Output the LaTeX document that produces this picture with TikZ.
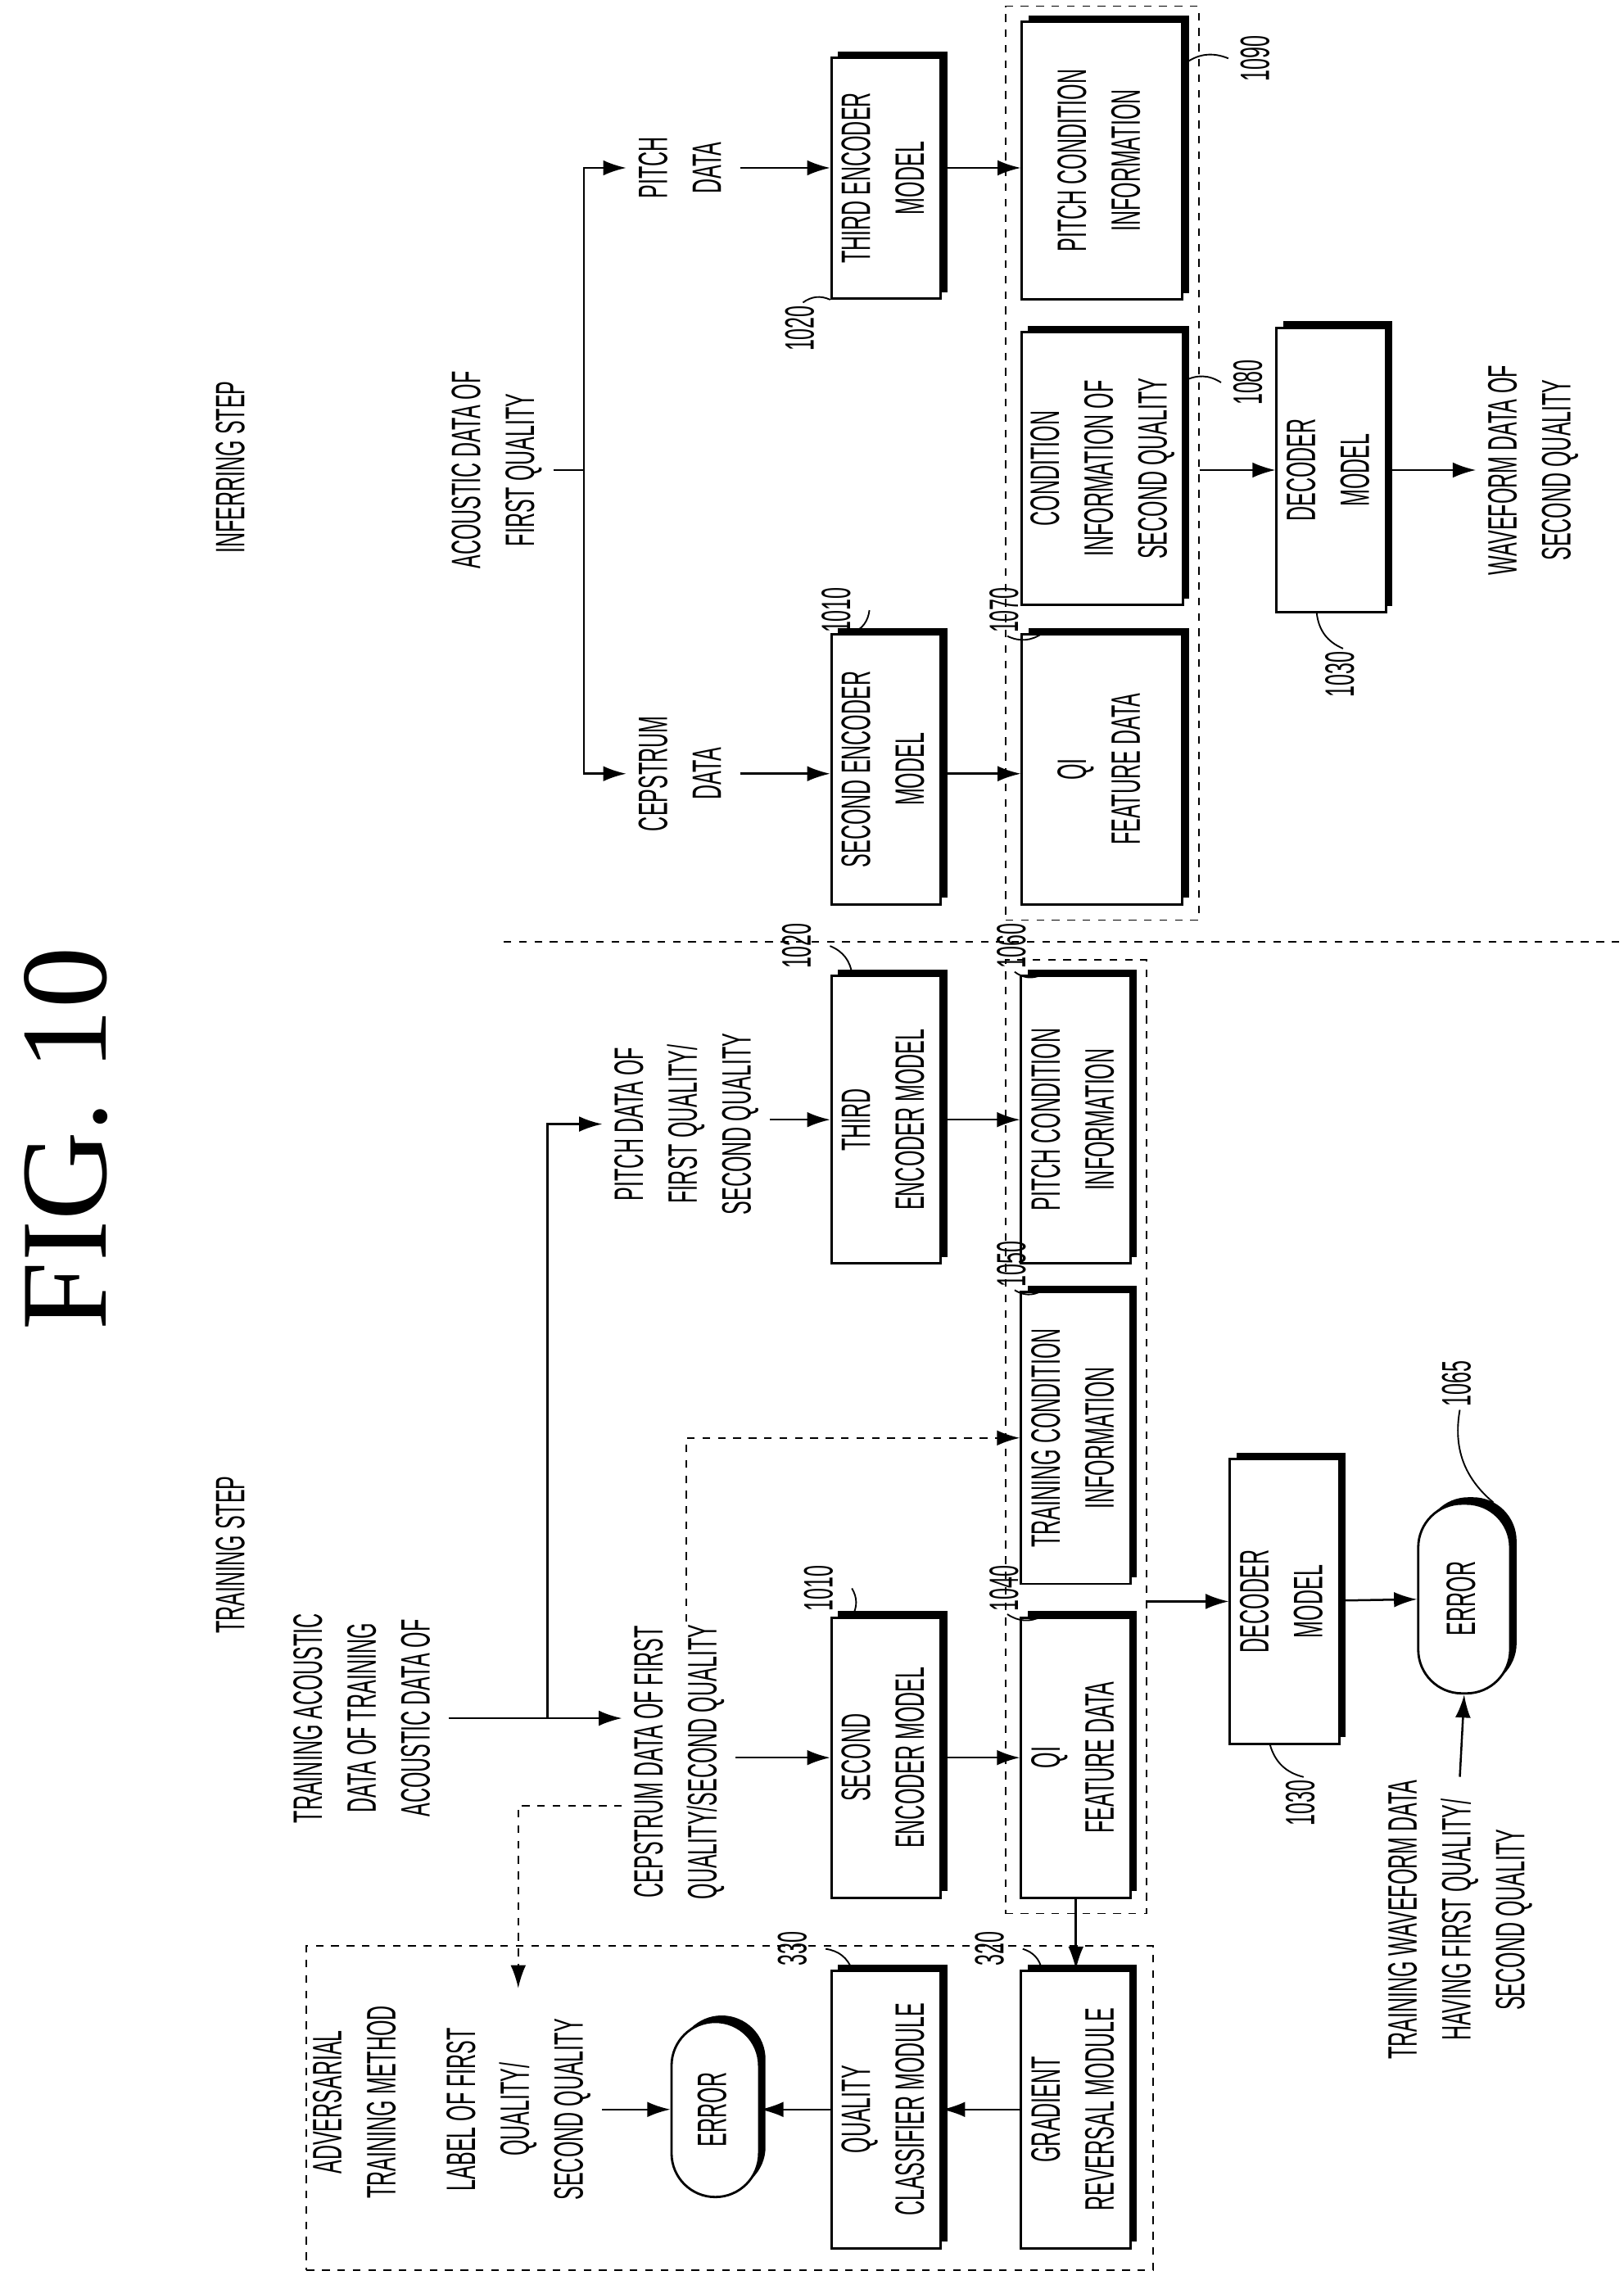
\documentclass[tikz,border=0pt]{standalone}
\usepackage{fontspec}
\setmainfont{Liberation Sans}
\newfontfamily\figfont{Liberation Serif}
\usetikzlibrary{arrows.meta,shadows,fit,positioning}
\newcommand{\rt}[1]{\rotatebox{90}{\scalebox{0.5}[1]{\begin{tabular}{@{}c@{}}#1\end{tabular}}}}
\tikzset{
  blk/.style 2 args={draw, line width=0.9pt, fill=white,
    drop shadow={shadow xshift=2.5pt, shadow yshift=2.5pt, fill=black, opacity=1},
    minimum width=#1, minimum height=#2, inner sep=0pt},
  err/.style 2 args={blk={#1}{#2}, rounded corners=0.6cm},
  txt/.style={inner sep=1pt},
  grp/.style={draw, dashed, line width=0.6pt, inner sep=0.2cm},
  ref/.style={inner sep=1pt},
  arr/.style={-{Latex[length=9pt,width=6pt]}, line width=0.8pt},
  lead/.style={line width=0.6pt},
}
\begin{document}
\begin{tikzpicture}[x=0.02cm, y=-0.02cm, font=\fontsize{16}{21}\selectfont]
\useasboundingbox (0,0) rectangle (1112,1568);
\node (fig) at (45,780) {\rotatebox{90}{\figfont\fontsize{48}{50}\selectfont FIG. 10}};
\draw[dashed, line width=0.6pt] (345,645) -- (1110,645);

% inferring step
\node[txt] (inf) at (160,320) {\rt{INFERRING STEP}};
\node[txt] (ac1) at (340,322) {\rt{ACOUSTIC DATA OF\\FIRST QUALITY}};
\coordinate (sp1) at (400,322);
\node[txt] (pd1) at (468,115) {\rt{PITCH\\DATA}};
\node[txt] (cd1) at (468,530) {\rt{CEPSTRUM\\DATA}};
\node[blk={1.5cm}{3.3cm}] (te1) at (607,122) {\rt{THIRD ENCODER\\MODEL}};
\node[blk={1.5cm}{3.7cm}] (se1) at (607,527) {\rt{SECOND ENCODER\\MODEL}};
\node[blk={2.2cm}{3.8cm}] (pc1) at (755,110) {\rt{PITCH CONDITION\\INFORMATION}};
\node[blk={2.2cm}{3.74cm}] (cq1) at (755,321) {\rt{CONDITION\\INFORMATION OF\\SECOND QUALITY}};
\node[blk={2.2cm}{3.7cm}] (qi1) at (755,527) {\rt{QI\\FEATURE DATA}};
\node[grp, fit=(pc1)(cq1)(qi1)] (grp1) {};
\node[blk={1.5cm}{3.9cm}] (dec1) at (912,322) {\rt{DECODER\\MODEL}};
\node[txt] (wf1) at (1050,322) {\rt{WAVEFORM DATA OF\\SECOND QUALITY}};

\draw[line width=0.8pt] (ac1.east) -- (sp1);
\draw[arr] (sp1) |- (pd1.west);
\draw[arr] (sp1) |- (cd1.west);
\draw[arr] (pd1.east) -- (pd1.east -| te1.west);
\draw[arr] (cd1.east) -- (cd1.east -| se1.west);
\draw[arr] (te1.east |- pd1) -- (pc1.west |- pd1);
\draw[arr] (se1.east |- cd1) -- (qi1.west |- cd1);
\draw[arr] (grp1.east |- dec1) -- (dec1.west);
\draw[arr] (dec1.east) -- (wf1.west);

\node[ref] (r1020a) at (550,225) {\rt{1020}};
\node[ref] (r1010a) at (575,418) {\rt{1010}};
\node[ref] (r1070a) at (690,418) {\rt{1070}};
\node[ref] (r1080a) at (857,262) {\rt{1080}};
\node[ref] (r1090a) at (862,40) {\rt{1090}};
\node[ref] (r1030a) at (920,462) {\rt{1030}};
\draw[lead] (r1020a.north) to[bend left=30] (te1.south west);
\draw[lead] (r1010a.east) to[bend left=30] ([xshift=0.3cm]se1.north west);
\draw[lead] (r1070a.south) to[bend right=30] ([xshift=0.3cm]qi1.north west);
\draw[lead] (r1080a.west) to[bend right=30] ([yshift=1.2cm]cq1.east);
\draw[lead] (r1090a.west) to[bend right=30] ([yshift=-0.6cm]pc1.north east);
\draw[lead] (r1030a.north) to[bend left=30] ([xshift=-0.2cm]dec1.south);

% training step
\node[txt] (trs) at (160,1065) {\rt{TRAINING STEP}};
\node[txt] (ta) at (250,1177) {\rt{TRAINING ACOUSTIC\\DATA OF TRAINING\\ACOUSTIC DATA OF}};
\coordinate (sp2) at (375,1177);
\node[txt] (pd2) at (470,770) {\rt{PITCH DATA OF\\FIRST QUALITY/\\SECOND QUALITY}};
\node[txt] (cd2) at (465,1207) {\rt{CEPSTRUM DATA OF FIRST\\QUALITY/SECOND QUALITY}};
\node[blk={1.5cm}{3.94cm}] (te2) at (607,767) {\rt{THIRD\\ENCODER MODEL}};
\node[blk={1.5cm}{3.84cm}] (se2) at (607,1204) {\rt{SECOND\\ENCODER MODEL}};
\node[blk={1.5cm}{3.94cm}] (pc2) at (737,767) {\rt{PITCH CONDITION\\INFORMATION}};
\node[blk={1.5cm}{4cm}] (tc2) at (737,985) {\rt{TRAINING CONDITION\\INFORMATION}};
\node[blk={1.5cm}{3.84cm}] (qi2) at (737,1204) {\rt{QI\\FEATURE DATA}};
\node[grp, fit=(pc2)(tc2)(qi2)] (grp2) {};
\node[blk={1.5cm}{3.9cm}] (dec2) at (880,1097) {\rt{DECODER\\MODEL}};
\node[err={1.26cm}{2.6cm}] (er2) at (1003,1095) {\rt{ERROR}};
\node[txt] (wt) at (1000,1315) {\rt{TRAINING WAVEFORM DATA\\HAVING FIRST QUALITY/\\SECOND QUALITY}};

\draw[line width=0.8pt] (ta.east |- sp2) -- (sp2);
\draw[arr] (sp2) |- (pd2.west);
\draw[arr] (sp2) -- (sp2 -| cd2.west);
\draw[arr] (pd2.east |- te2) -- (te2.west);
\draw[arr] (cd2.east |- se2) -- (se2.west);
\draw[arr] (te2) -- (pc2);
\draw[arr] (se2) -- (qi2);
\draw[arr, dashed] ([xshift=0.1cm]cd2.north) |- (tc2.west);
\draw[arr, dashed] ([yshift=-0.6cm]cd2.west) -| (355,1362);
\draw[arr] (grp2.east |- dec2) -- (dec2.west);
\draw[arr] (dec2) -- (er2);
\draw[arr] (wt.north) -- (er2.south);

\node[ref] (r1020b) at (548,648) {\rt{1020}};
\node[ref] (r1060b) at (695,648) {\rt{1060}};
\node[ref] (r1050b) at (695,866) {\rt{1050}};
\node[ref] (r1010b) at (563,1088) {\rt{1010}};
\node[ref] (r1040b) at (690,1088) {\rt{1040}};
\node[ref] (r1030b) at (893,1235) {\rt{1030}};
\node[ref] (r1065b) at (1000,948) {\rt{1065}};
\draw[lead] (r1020b.east) to[bend left=30] ([xshift=0.3cm]te2.north west);
\draw[lead] (r1060b.south) to[bend right=30] ([xshift=0.3cm]pc2.north west);
\draw[lead] (r1050b.south) to[bend right=30] ([xshift=0.3cm]tc2.north west);
\draw[lead] (r1010b.east) to[bend left=30] ([xshift=0.3cm]se2.north west);
\draw[lead] (r1040b.south) to[bend right=30] ([xshift=0.3cm]qi2.north west);
\draw[lead] (r1030b.north) to[bend left=30] ([xshift=-0.2cm]dec2.south);
\draw[lead] (r1065b.south) to[bend right=30] ([xshift=0.4cm]er2.north);

% adversarial training
\coordinate (a1) at (210,1333);
\coordinate (a2) at (790,1555);
\node[grp, inner sep=0pt, fit=(a1)(a2)] (adv) {};
\node[txt] (atm) at (245,1440) {\rt{ADVERSARIAL\\TRAINING METHOD}};
\node[txt] (lb) at (355,1445) {\rt{LABEL OF FIRST\\QUALITY/\\SECOND QUALITY}};
\node[err={1.2cm}{2.4cm}] (er1) at (490,1445) {\rt{ERROR}};
\node[blk={1.5cm}{3.8cm}] (qc) at (607,1445) {\rt{QUALITY\\CLASSIFIER MODULE}};
\node[blk={1.5cm}{3.8cm}] (gr) at (737,1445) {\rt{GRADIENT\\REVERSAL MODULE}};
\draw[arr] (qi2.south) -- (gr.north);
\draw[arr] (gr) -- (qc);
\draw[arr] (qc) -- (er1);
\draw[arr] (lb.east |- er1) -- (er1.west);
\node[ref] (r330) at (545,1335) {\rt{330}};
\node[ref] (r320) at (680,1335) {\rt{320}};
\draw[lead] (r330.east) to[bend left=30] ([xshift=0.3cm]qc.north west);
\draw[lead] (r320.east) to[bend left=30] ([xshift=0.3cm]gr.north west);
\end{tikzpicture}
\end{document}
